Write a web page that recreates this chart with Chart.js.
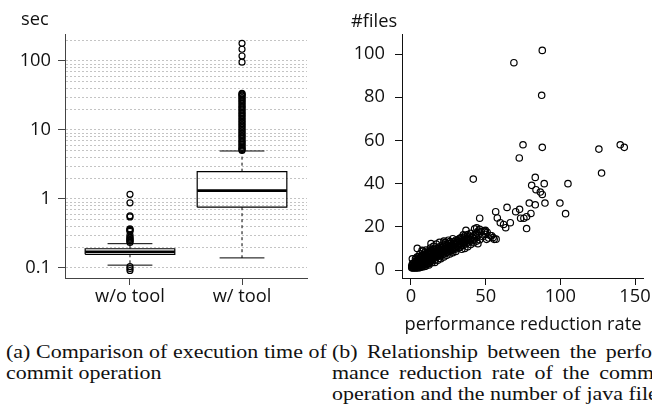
<!DOCTYPE html>
<html>
<head>
<meta charset="utf-8">
<script src="https://cdn.jsdelivr.net/npm/chart.js@4.4.0/dist/chart.umd.min.js"></script>
<style>
html, body { margin: 0; padding: 0; background: #fff; }
#page { position: relative; width: 652px; height: 411px; overflow: hidden; }
canvas { position: absolute; top: 0; }
.unit { position: absolute; font: 18.3px "Open Sans"; color: #111; line-height: 20px; white-space: nowrap; }
.cap { position: absolute; font: 18px "Liberation Serif"; color: #111; line-height: 21px; height: 21px;
       transform-origin: 0 0; transform: scaleX(1.22); }
.just { text-align: justify; text-align-last: justify; }
</style>
</head>
<body>
<div id="page">
  <canvas id="boxChart" width="330" height="320" style="left:0"></canvas>
  <canvas id="scatterChart" width="322" height="340" style="left:330px"></canvas>
  <div class="unit" style="left:21px; top:8px">sec</div>
  <div class="unit" style="left:351px; top:10px">#files</div>

  <div class="cap just" style="left:6px; top:341.6px; width:263px">(a) Comparison of execution time of</div>
  <div class="cap" style="left:6px; top:362.6px; white-space:nowrap">commit operation</div>
  <div class="cap just" style="left:332px; top:341.6px; width:274px">(b) Relationship between the perfor-</div>
  <div class="cap just" style="left:332px; top:362.6px; width:274px">mance reduction rate of the commit</div>
  <div class="cap just" style="left:332px; top:383.6px; width:274px">operation and the number of java files</div>
</div>
<script>
// (a) execution time of commit, box plot on a log scale (sec)
const groups = ['w/o tool', 'w/ tool'];
const groupPos = [1, 2];
const lowerWhisker = [0.11, 0.14];
const q1 = [0.158, 0.76];
const median = [0.172, 1.32];
const q3 = [0.19, 2.49];
const upperWhisker = [0.225, 4.96];
const outliersWithout = [1.17, 0.88, 0.57, 0.55, 0.37, 0.36, 0.35, 0.34, 0.3, 0.28, 0.27, 0.26,
    0.25, 0.245, 0.235, 0.105, 0.098, 0.092];
const outliersWith = [180, 148, 118, 96, 34, 33, 32, 31, 29.5, 28, 27, 25.5, 24.5, 23, 22, 21, 20,
    19, 18, 17.2, 16.4, 15.6, 14.8, 14, 13.3, 12.6, 12, 11.4, 10.8, 10.2, 9.7, 9.2, 8.7, 8.3, 7.9,
    7.5, 7.1, 6.8, 6.5, 6.2, 5.9, 5.6, 5.4, 5.2, 5.05];
const secGrid = [0.1, 0.2, 0.3, 0.4, 0.5, 0.6, 0.7, 0.8, 0.9, 1, 2, 3, 4, 5, 6, 7, 8, 9,
    10, 20, 30, 40, 50, 60, 70, 80, 90, 100, 200];
const secLabels = [0.1, 1, 10, 100];

// (b) performance reduction rate vs #java files
const rateTicks = [0, 50, 100, 150];
const fileTicks = [0, 20, 40, 60, 80, 100];
const spreadPoints = [
    [87.9, 101.7], [68.9, 96], [87.5, 80.9], [75, 58], [87.9, 56.8], [72.5, 51.9], [125.8, 56],
    [140.1, 58], [142.8, 56.8], [127.6, 44.9], [83.2, 42.9], [80.8, 39.2], [89.2, 40], [105.1, 40],
    [83.7, 37.2], [86.6, 36.1], [87.9, 35], [79.2, 31], [83.2, 30.2], [89.7, 31], [99.7, 31],
    [103.5, 26.1], [56.7, 27], [64.3, 29], [70.1, 27], [72.7, 28.1], [80.3, 26.2], [73.4, 24],
    [75.6, 24], [77.4, 24.7], [57.8, 24.1], [59.8, 21.9], [62, 21.1], [63.4, 19.6], [66.5, 21.9],
    [77.4, 19.2], [46, 24], [41.7, 42.1], [49.3, 17.7], [54, 15.9], [55.7, 14.2], [50.6, 14.2],
    [42.6, 19.1], [49.8, 18.4], [36.8, 18.4], [44.8, 12.2], [13.4, 12.2], [4.2, 10], [7.4, 9.1],
    [0.9, 5.2], [22.8, 12.8], [28.3, 13], [11.6, 8], [18.3, 10], [27.4, 10.6]
];
const clusterPoints = [
    [0.5, 1], [1, 1], [1.5, 1.2], [2, 1], [2.5, 1], [3, 1.1], [3.5, 1], [4, 1.2], [4.5, 1], [5, 1.3],
    [5.5, 1.1], [6, 1.2], [7, 1.4], [8, 1.5], [9, 1.6], [10, 1.8],
    [0.5, 2], [1, 2.2], [2, 2], [3, 2.1], [4, 2.3], [5, 2.2], [6, 2.4], [7, 2.3], [8, 2.6], [9, 2.5],
    [10, 2.7], [11, 2.8], [12, 3],
    [1, 3], [2, 3.2], [3, 3], [4, 3.3], [5, 3.1], [6, 3.4], [7, 3.2], [8, 3.5], [9, 3.6], [10, 3.4],
    [11, 3.8], [12, 3.9], [13, 4], [14, 4.2],
    [3, 4], [4, 4.4], [5, 4], [6, 4.3], [7, 4.6], [8, 4.2], [9, 4.7], [10, 4.5], [11, 4.9], [12, 5],
    [13, 5.1], [14, 5.3], [15, 5.4], [16, 5.6],
    [5, 5.2], [6, 5.5], [7, 5.8], [8, 5.4], [9, 5.9], [10, 5.7], [11, 6], [12, 6.2], [13, 6.4],
    [14, 6.5], [15, 6.8], [16, 6.9], [17, 7.1], [18, 7.2], [19, 7.5], [20, 7.6],
    [8, 6.8], [9, 7], [10, 7.3], [11, 7.6], [12, 7.2], [13, 7.8], [14, 8], [15, 8.3], [16, 8.1],
    [17, 8.6], [18, 8.8], [19, 9], [20, 9.1], [21, 9.4], [22, 9.6],
    [12, 8.5], [14, 9], [16, 9.5], [18, 10], [20, 10.4], [22, 10.8], [24, 11.2], [21, 8.4], [22, 8.7],
    [23, 9.2], [24, 9.5], [25, 10], [26, 10.3], [27, 10.8], [28, 11.2], [29, 11.6], [30, 12],
    [23, 11.8], [25, 12.2], [27, 12.6], [29, 13.1], [31, 13.5], [26, 9.1], [28, 9.6], [30, 10.4],
    [31, 11], [32, 11.7], [33, 12.3], [34, 12.9], [35, 13.6], [36, 14.1], [37, 14.6], [38, 15.2],
    [30, 13.8], [32, 14.3], [34, 15], [36, 15.8], [38, 16.4], [40, 17], [33, 10.6], [35, 11.4],
    [37, 12.2], [39, 13], [40, 14.2], [41, 15.1], [42, 15.9], [43, 16.5], [44, 17.2], [45, 18],
    [3, 5.2], [4, 6], [6, 7.5], [8, 8.8], [10, 9.2], [13, 10.2], [15, 11], [17, 12], [19, 12.8],
    [22, 13.4], [25, 13.8], [28, 14.5], [16, 3.5], [18, 4.5], [20, 5.2], [22, 6], [24, 6.8],
    [26, 7.4], [28, 8], [30, 8.6], [34, 9.6], [36, 10], [38, 10.8], [40, 11.8], [42, 12.6],
    [44, 13.4], [46, 14], [48, 15.5], [50, 16.5], [47, 17.8], [49, 18.2], [51, 17.5], [53, 16],
    [55, 15], [57, 14.3], [52, 14.8], [44, 19.5], [46, 18.8],
    [1.5, 1.8], [2.5, 2.6], [3.5, 2.4], [4.5, 3.6], [5.5, 2.8], [6.5, 3.8], [7.5, 4.1], [8.5, 3],
    [9.5, 4.2], [10.5, 5.1], [11.5, 4.3], [12.5, 5.6], [13.5, 4.7], [14.5, 5.9], [15.5, 6.2],
    [16.5, 7.6], [17.5, 6.5], [18.5, 8.1], [19.5, 6.9], [20.5, 8.6], [21.5, 7.3], [22.5, 9.9],
    [23.5, 8.2], [24.5, 10.4], [25.5, 8.9], [26.5, 11.3], [27.5, 9.4], [28.5, 12.1], [29.5, 10.2],
    [30.5, 12.8], [31.5, 10.8], [32.5, 13.2], [33.5, 11.6], [34.5, 14.2], [35.5, 12.5], [36.5, 13.1],
    [37.5, 13.8], [38.5, 14.1], [39.5, 15.6], [41.5, 13.6], [42.5, 14.5], [43.5, 15.3], [45, 16.2],
    [21, 11.5], [19, 10.8], [17, 9.8], [15, 9.6], [13, 8.9], [11, 8.2], [9, 8], [7, 6.6], [5, 6.2],
    [18, 6.2], [20, 6.6], [22, 7.4], [24, 8.1], [26, 8.6], [28, 9.1], [30, 9.7], [32, 10.2],
    [14, 3.4], [12, 2.3], [16, 4.6], [19, 5.4], [23, 12.6], [26, 13.2], [33, 14.8], [35, 16.3]
];

Chart.defaults.font.family = '"Open Sans", sans-serif';
Chart.defaults.font.size = 18.3;
Chart.defaults.color = '#111';

const HALF_BOX = 0.4;
const HALF_CAP = 0.2;

function segment(points, dash, width) {
    return {
        data: points,
        showLine: true,
        borderColor: '#000',
        borderWidth: width || 1,
        borderDash: dash || [],
        pointRadius: 0,
        fill: false
    };
}

function circles(points, radius) {
    return {
        data: points,
        showLine: false,
        pointRadius: radius || 3,
        pointBorderWidth: 1.2,
        pointBorderColor: '#000',
        pointBackgroundColor: 'rgba(0,0,0,0)'
    };
}

// build the box plot pieces from the quartile arrays
const boxSets = [];
groups.forEach((g, i) => {
    const x = groupPos[i];
    boxSets.push(segment([{x: x, y: q3[i]}, {x: x, y: upperWhisker[i]}], [3, 3]));
    boxSets.push(segment([{x: x, y: q1[i]}, {x: x, y: lowerWhisker[i]}], [3, 3]));
    boxSets.push(segment([{x: x - HALF_CAP, y: upperWhisker[i]}, {x: x + HALF_CAP, y: upperWhisker[i]}]));
    boxSets.push(segment([{x: x - HALF_CAP, y: lowerWhisker[i]}, {x: x + HALF_CAP, y: lowerWhisker[i]}]));
    boxSets.push(segment([
        {x: x - HALF_BOX, y: q1[i]}, {x: x + HALF_BOX, y: q1[i]}, {x: x + HALF_BOX, y: q3[i]},
        {x: x - HALF_BOX, y: q3[i]}, {x: x - HALF_BOX, y: q1[i]}
    ], [], 1.2));
    boxSets.push(segment([{x: x - HALF_BOX, y: median[i]}, {x: x + HALF_BOX, y: median[i]}], [], 2.6));
});
boxSets.push(circles(outliersWithout.map(v => ({x: groupPos[0], y: v}))));
boxSets.push(circles(outliersWith.map(v => ({x: groupPos[1], y: v}))));

new Chart(document.getElementById('boxChart'), {
    type: 'scatter',
    data: {datasets: boxSets},
    options: {
        responsive: false,
        animation: false,
        layout: {padding: {top: 34, right: 23, left: 0, bottom: 0}},
        plugins: {legend: {display: false}, tooltip: {enabled: false}},
        scales: {
            x: {
                type: 'linear',
                min: 0.42,
                max: 2.58,
                afterBuildTicks: s => { s.ticks = groupPos.map(v => ({value: v})); },
                afterFit: s => { s.height = 42; },
                grid: {drawOnChartArea: false, tickLength: 7, color: '#444', tickColor: '#444'},
                border: {color: '#444', width: 1},
                ticks: {autoSkip: false, maxRotation: 0, padding: 1, callback: (v, i) => groups[i]}
            },
            y: {
                type: 'logarithmic',
                min: 0.0716,
                max: 246,
                afterBuildTicks: s => { s.ticks = secGrid.map(v => ({value: v})); },
                afterFit: s => { s.width = 65; },
                grid: {
                    color: '#c4c4c4',
                    tickLength: 7,
                    tickBorderDash: [],
                    tickColor: c => secLabels.includes(c.tick.value) ? '#444' : 'rgba(0,0,0,0)'
                },
                border: {color: '#444', width: 1, dash: [2, 2]},
                ticks: {autoSkip: false, padding: 7, callback: v => secLabels.includes(v) ? String(v) : ''}
            }
        }
    }
});

new Chart(document.getElementById('scatterChart'), {
    type: 'scatter',
    data: {
        datasets: [
            circles(clusterPoints.map(p => ({x: p[0], y: p[1]})), 3.2),
            circles(spreadPoints.map(p => ({x: p[0], y: p[1]})), 3.2)
        ]
    },
    options: {
        responsive: false,
        animation: false,
        layout: {padding: {top: 34, right: 8, left: 0, bottom: 0}},
        plugins: {legend: {display: false}, tooltip: {enabled: false}},
        scales: {
            x: {
                type: 'linear',
                min: -6.02,
                max: 155.96,
                afterBuildTicks: s => { s.ticks = rateTicks.map(v => ({value: v})); },
                afterFit: s => { s.height = 62; },
                grid: {drawOnChartArea: false, tickLength: 7, color: '#111'},
                border: {color: '#111', width: 1},
                ticks: {autoSkip: false, maxRotation: 0, padding: 1},
                title: {display: true, text: 'performance reduction rate', padding: {top: 0, bottom: 4}}
            },
            y: {
                type: 'linear',
                min: -3.7,
                max: 109.3,
                afterBuildTicks: s => { s.ticks = fileTicks.map(v => ({value: v})); },
                afterFit: s => { s.width = 72; },
                grid: {drawOnChartArea: false, tickLength: 7, color: '#111'},
                border: {color: '#111', width: 1},
                ticks: {autoSkip: false, padding: 10}
            }
        }
    }
});
</script>
</body>
</html>
